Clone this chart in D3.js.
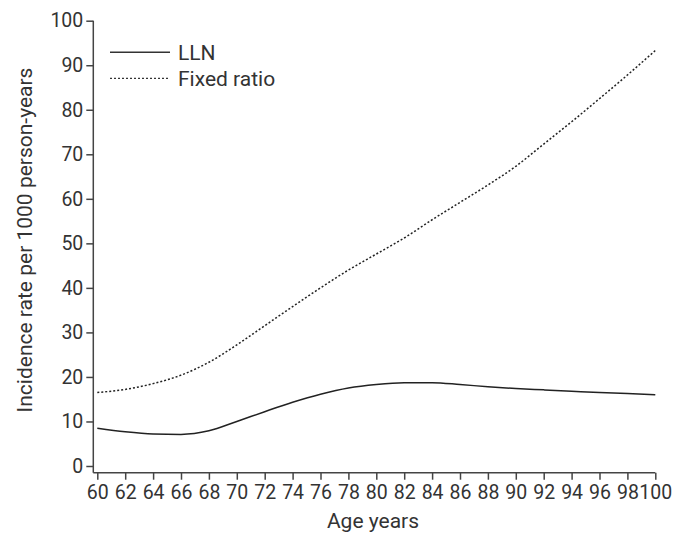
<!DOCTYPE html>
<html>
<head>
<meta charset="utf-8">
<script src="https://cdn.jsdelivr.net/npm/d3@7"></script>
<style>
  body { margin: 0; background: #fff; }
  text { font-family: Roboto, "Noto Sans", sans-serif; fill: #333; }
</style>
</head>
<body>
<div id="chart"></div>
<script>
var ages = [60, 62, 64, 66, 68, 70, 72, 74, 76, 78, 80, 82, 84, 86, 88, 90, 92, 94, 96, 98, 100];
var lln = [8.5, 7.7, 7.2, 7.1, 7.9, 10.0, 12.2, 14.3, 16.1, 17.5, 18.3, 18.7, 18.7, 18.3, 17.8, 17.4, 17.1, 16.8, 16.5, 16.3, 16.0];
var fixedRatio = [16.5, 17.2, 18.5, 20.4, 23.3, 27.2, 31.5, 35.8, 40.0, 44.0, 47.6, 51.2, 55.3, 59.2, 63.1, 67.3, 72.3, 77.3, 82.5, 87.8, 93.3];
var xTicks = d3.range(60, 101, 2);
var yTicks = d3.range(0, 101, 10);
var seriesNames = ["LLN", "Fixed ratio"];

var svgWidth = 686;
var svgHeight = 533;

var svg = d3.select("#chart")
  .append("svg")
  .attr("width", svgWidth)
  .attr("height", svgHeight);

var x = d3.scaleLinear().domain([60, 100]).range([97.3, 655.3]);
var y = d3.scaleLinear().domain([0, 100]).range([466, 20.7]);

var axisColor = "#444";
var xAxisY = y(0) + 6.7;
var yAxisX = x(60) - 4;

// axis lines
svg.append("line")
  .attr("x1", yAxisX).attr("x2", x(100))
  .attr("y1", xAxisY).attr("y2", xAxisY)
  .attr("stroke", axisColor).attr("stroke-width", 1.5);

svg.append("line")
  .attr("x1", yAxisX).attr("x2", yAxisX)
  .attr("y1", y(100)).attr("y2", xAxisY)
  .attr("stroke", axisColor).attr("stroke-width", 1.5);

var bottomAxis = d3.axisBottom(x).tickValues(xTicks).tickSize(7).tickPadding(5).tickSizeOuter(0);
var leftAxis = d3.axisLeft(y).tickValues(yTicks).tickSize(7).tickPadding(3).tickSizeOuter(0);

var gx = svg.append("g")
  .attr("transform", `translate(0, ${xAxisY})`)
  .call(bottomAxis);
gx.select(".domain").remove();

var gy = svg.append("g")
  .attr("transform", `translate(${yAxisX}, 0)`)
  .call(leftAxis);
gy.select(".domain").remove();

svg.selectAll(".tick line").attr("stroke", axisColor).attr("stroke-width", 1.5);
svg.selectAll(".tick text")
  .attr("font-family", "Roboto, sans-serif")
  .attr("font-size", 19.5)
  .attr("fill", "#333");

// lines
var line = d3.line()
  .x(d => x(d[0]))
  .y(d => y(d[1]))
  .curve(d3.curveMonotoneX);

svg.append("path")
  .datum(ages.map((a, i) => [a, lln[i]]))
  .attr("d", line)
  .attr("fill", "none")
  .attr("stroke", "#222")
  .attr("stroke-width", 1.5);

svg.append("path")
  .datum(ages.map((a, i) => [a, fixedRatio[i]]))
  .attr("d", line)
  .attr("fill", "none")
  .attr("stroke", "#222")
  .attr("stroke-width", 1.5)
  .attr("stroke-dasharray", "2,2");

// legend
var legend = svg.append("g").attr("transform", "translate(110, 52.3)");
seriesNames.forEach(function(name, i) {
  legend.append("line")
    .attr("x1", 0).attr("x2", 60)
    .attr("y1", i * 26).attr("y2", i * 26)
    .attr("stroke", "#333")
    .attr("stroke-width", i === 0 ? 1.5 : 1.3)
    .attr("stroke-dasharray", i === 0 ? null : "2,2");
  legend.append("text")
    .attr("x", 68)
    .attr("y", i * 26 + 7.8)
    .attr("font-size", 21)
    .text(name);
});

// axis titles
svg.append("text")
  .attr("x", 373)
  .attr("y", 528)
  .attr("text-anchor", "middle")
  .attr("font-size", 21)
  .text("Age years");

svg.append("text")
  .attr("transform", "rotate(-90)")
  .attr("x", -240)
  .attr("y", 32)
  .attr("text-anchor", "middle")
  .attr("font-size", 21)
  .text("Incidence rate per 1000 person-years");
</script>
</body>
</html>
